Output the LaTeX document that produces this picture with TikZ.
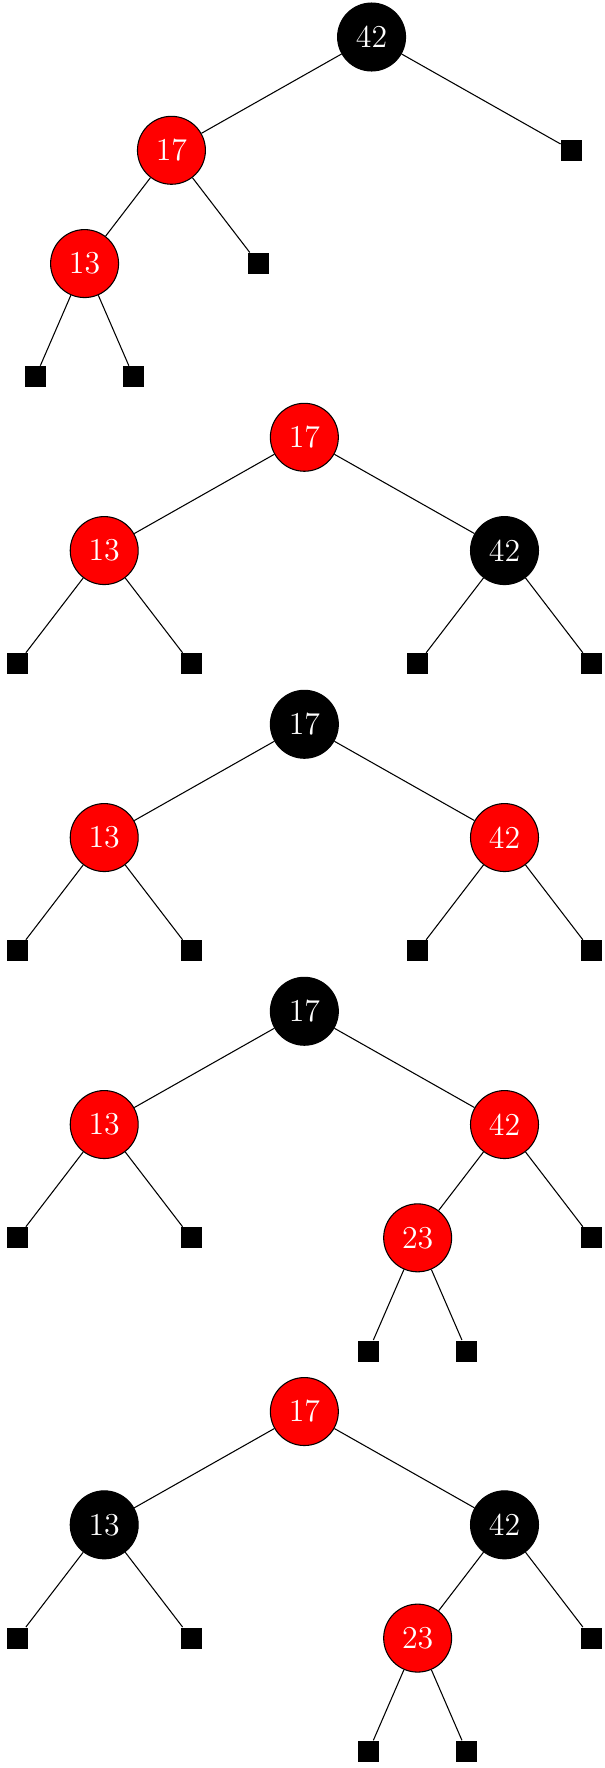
\documentclass[tikz,border=0pt]{standalone}
\usepackage{tikz}
\tikzset{
  rednode/.style={circle, draw=black, fill=red, text=white, minimum size=9mm, inner sep=0pt, font=\large},
  blacknode/.style={circle, draw=black, fill=black, text=white, minimum size=9mm, inner sep=0pt, font=\large},
  nilbox/.style={rectangle, fill=black, minimum size=2.8mm, inner sep=0pt},
  treeedge/.style={line width=0.4pt, black}
}
\begin{document}
\begin{tikzpicture}
    \useasboundingbox (0,0) rectangle (8.0,-23.41);
    % first tree
    \begin{scope}[shift={(4.92,-0.49)}]
        \node[blacknode] (t1r) at (0,0) {42};
        \node[rednode] (t1a) at (-2.65,-1.5) {17};
        \node[nilbox] (t1b) at (2.65,-1.5) {};
        \node[rednode] (t1c) at (-3.8,-3) {13};
        \node[nilbox] (t1d) at (-1.5,-3) {};
        \node[nilbox] (t1e) at (-4.45,-4.5) {};
        \node[nilbox] (t1f) at (-3.15,-4.5) {};
        \draw[treeedge] (t1r)--(t1a);
        \draw[treeedge] (t1r)--(t1b);
        \draw[treeedge] (t1a)--(t1c);
        \draw[treeedge] (t1a)--(t1d);
        \draw[treeedge] (t1c)--(t1e);
        \draw[treeedge] (t1c)--(t1f);
    \end{scope}
    % second tree
    \begin{scope}[shift={(4.03,-5.79)}]
        \node[rednode] (t2r) at (0,0) {17};
        \node[rednode] (t2a) at (-2.65,-1.5) {13};
        \node[blacknode] (t2b) at (2.65,-1.5) {42};
        \node[nilbox] (t2c) at (-3.8,-3) {};
        \node[nilbox] (t2d) at (-1.5,-3) {};
        \node[nilbox] (t2e) at (1.5,-3) {};
        \node[nilbox] (t2f) at (3.8,-3) {};
        \draw[treeedge] (t2r)--(t2a);
        \draw[treeedge] (t2r)--(t2b);
        \draw[treeedge] (t2a)--(t2c);
        \draw[treeedge] (t2a)--(t2d);
        \draw[treeedge] (t2b)--(t2e);
        \draw[treeedge] (t2b)--(t2f);
    \end{scope}
    % third tree
    \begin{scope}[shift={(4.03,-9.59)}]
        \node[blacknode] (t3r) at (0,0) {17};
        \node[rednode] (t3a) at (-2.65,-1.5) {13};
        \node[rednode] (t3b) at (2.65,-1.5) {42};
        \node[nilbox] (t3c) at (-3.8,-3) {};
        \node[nilbox] (t3d) at (-1.5,-3) {};
        \node[nilbox] (t3e) at (1.5,-3) {};
        \node[nilbox] (t3f) at (3.8,-3) {};
        \draw[treeedge] (t3r)--(t3a);
        \draw[treeedge] (t3r)--(t3b);
        \draw[treeedge] (t3a)--(t3c);
        \draw[treeedge] (t3a)--(t3d);
        \draw[treeedge] (t3b)--(t3e);
        \draw[treeedge] (t3b)--(t3f);
    \end{scope}
    % fourth tree
    \begin{scope}[shift={(4.03,-13.39)}]
        \node[blacknode] (t4r) at (0,0) {17};
        \node[rednode] (t4a) at (-2.65,-1.5) {13};
        \node[rednode] (t4b) at (2.65,-1.5) {42};
        \node[nilbox] (t4c) at (-3.8,-3) {};
        \node[nilbox] (t4d) at (-1.5,-3) {};
        \node[rednode] (t4e) at (1.5,-3) {23};
        \node[nilbox] (t4f) at (3.8,-3) {};
        \node[nilbox] (t4g) at (0.85,-4.5) {};
        \node[nilbox] (t4h) at (2.15,-4.5) {};
        \draw[treeedge] (t4r)--(t4a);
        \draw[treeedge] (t4r)--(t4b);
        \draw[treeedge] (t4a)--(t4c);
        \draw[treeedge] (t4a)--(t4d);
        \draw[treeedge] (t4b)--(t4e);
        \draw[treeedge] (t4b)--(t4f);
        \draw[treeedge] (t4e)--(t4g);
        \draw[treeedge] (t4e)--(t4h);
    \end{scope}
    % fifth tree
    \begin{scope}[shift={(4.03,-18.69)}]
        \node[rednode] (t5r) at (0,0) {17};
        \node[blacknode] (t5a) at (-2.65,-1.5) {13};
        \node[blacknode] (t5b) at (2.65,-1.5) {42};
        \node[nilbox] (t5c) at (-3.8,-3) {};
        \node[nilbox] (t5d) at (-1.5,-3) {};
        \node[rednode] (t5e) at (1.5,-3) {23};
        \node[nilbox] (t5f) at (3.8,-3) {};
        \node[nilbox] (t5g) at (0.85,-4.5) {};
        \node[nilbox] (t5h) at (2.15,-4.5) {};
        \draw[treeedge] (t5r)--(t5a);
        \draw[treeedge] (t5r)--(t5b);
        \draw[treeedge] (t5a)--(t5c);
        \draw[treeedge] (t5a)--(t5d);
        \draw[treeedge] (t5b)--(t5e);
        \draw[treeedge] (t5b)--(t5f);
        \draw[treeedge] (t5e)--(t5g);
        \draw[treeedge] (t5e)--(t5h);
    \end{scope}
\end{tikzpicture}
\end{document}
